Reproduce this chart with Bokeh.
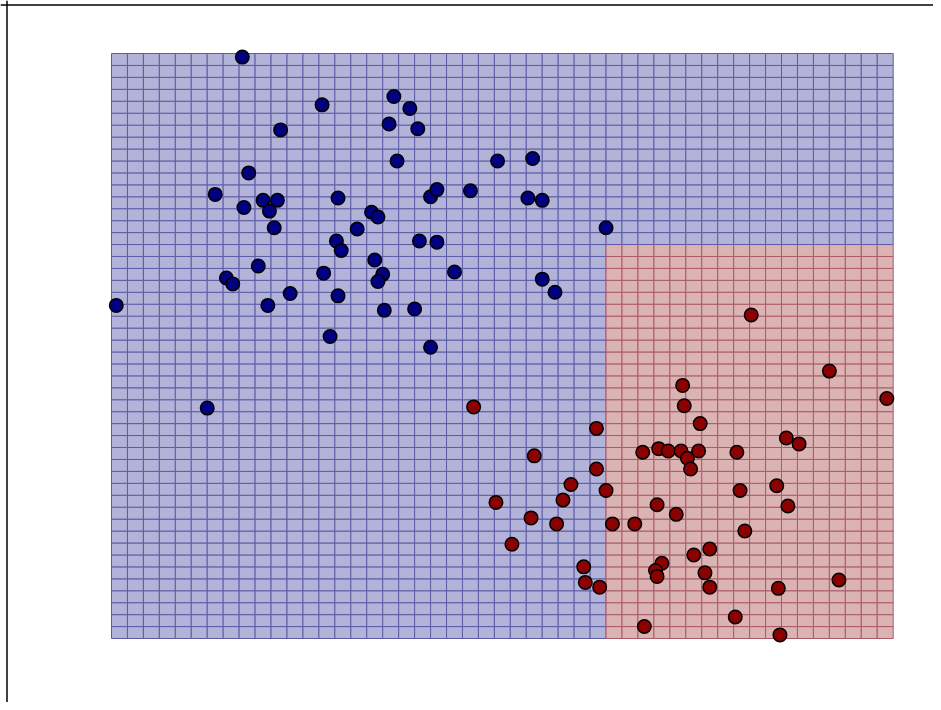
import numpy as np
from bokeh.plotting import figure
from bokeh.models import Range1d, ColumnDataSource, Span
from bokeh.embed import file_html
from bokeh.resources import INLINE

# ---- data: class 0 (blue) ----
blue_x = [-1.38, -0.88, -0.43, -0.33, -0.46, -0.28, -1.14, -0.41, 0.22, 0.44,
          -1.34, -1.55, -1.37, -1.25, -1.16, -1.21, -1.18, -0.78, -0.57, -0.53,
          -0.66, -0.20, -0.16, 0.05, 0.41, 0.50, 0.90, -0.79, -0.76, -0.27,
          -0.16, -0.55, -1.28, -1.48, -1.44, -0.87, -0.50, -0.53, -0.05, -1.08,
          -0.78, -1.22, -0.30, -0.49, 0.50, 0.58, -0.83, -0.20, -2.17, -1.60]
blue_y = [2.47, 2.07, 2.14, 2.04, 1.91, 1.87, 1.86, 1.60, 1.60, 1.62,
          1.50, 1.32, 1.21, 1.27, 1.27, 1.18, 1.04, 1.29, 1.17, 1.13,
          1.03, 1.30, 1.36, 1.35, 1.29, 1.27, 1.04, 0.93, 0.85, 0.93,
          0.92, 0.77, 0.72, 0.62, 0.57, 0.66, 0.65, 0.59, 0.67, 0.49,
          0.47, 0.39, 0.36, 0.35, 0.61, 0.50, 0.13, 0.04, 0.39, -0.47]

# ---- data: class 1 (red) ----
red_x = [1.81, 2.30, 2.66, 1.38, 1.39, 1.49, 0.07, 0.84, 0.45, 0.84,
         0.68, 0.63, 0.90, 1.13, 1.23, 1.29, 1.37, 1.41, 1.48, 1.43,
         1.72, 2.03, 2.11, 0.21, 0.43, 0.59, 0.94, 1.08, 1.22, 1.34,
         1.74, 1.97, 2.04, 1.77, 0.31, 1.45, 1.55, 1.25, 1.21, 1.22,
         1.52, 1.55, 0.76, 0.77, 0.86, 2.36, 1.98, 1.14, 1.71, 1.99]
red_y = [0.31, -0.16, -0.39, -0.28, -0.45, -0.60, -0.46, -0.64, -0.87, -0.98,
         -1.11, -1.24, -1.16, -0.84, -0.81, -0.83, -0.83, -0.89, -0.83, -0.98,
         -0.84, -0.72, -0.77, -1.26, -1.39, -1.44, -1.44, -1.44, -1.28, -1.36,
         -1.16, -1.12, -1.29, -1.50, -1.61, -1.70, -1.65, -1.77, -1.83, -1.88,
         -1.85, -1.97, -1.80, -1.93, -1.97, -1.91, -1.98, -2.30, -2.22, -2.37]

# ---- decision surface (depth-2 tree rule) ----
mesh_x_min, mesh_x_max = -2.2, 2.7
mesh_y_min, mesh_y_max = -2.4, 2.5
mesh_points = 50
split_x = 0.9   # class 1 where x > split_x ...
split_y = 0.9   # ... and y < split_y

x_edges = np.linspace(mesh_x_min, mesh_x_max, mesh_points)
y_edges = np.linspace(mesh_y_min, mesh_y_max, mesh_points)
L, B = np.meshgrid(x_edges[:-1], y_edges[:-1])
R, T = np.meshgrid(x_edges[1:], y_edges[1:])
cx = (L + R) / 2
cy = (B + T) / 2
is_red = ((cx > split_x) & (cy < split_y)).ravel()

fill = np.where(is_red, "#dcb3b3", "#b3b3d9")
edge = np.where(is_red, "#aa5a68", "#5c5ca6")
mesh = ColumnDataSource(dict(left=L.ravel(), right=R.ravel(), bottom=B.ravel(), top=T.ravel(),
                             fill=fill, edge=edge))

p = figure(width=933, height=702,
           x_range=Range1d(-2.8958, 2.9526), y_range=Range1d(-2.936, 2.9439),
           output_backend="svg", toolbar_location=None, min_border=0,
           x_axis_location=None, y_axis_location=None)
p.grid.visible = False
p.outline_line_color = None
p.background_fill_color = "white"
p.border_fill_color = "white"

p.quad(left="left", right="right", bottom="bottom", top="top", source=mesh,
       fill_color="fill", line_color="edge", line_width=1)

p.scatter(blue_x, blue_y, size=13.5, fill_color="#000080", line_color="black", line_width=1.5)
p.scatter(red_x, red_y, size=13.5, fill_color="#8b0000", line_color="black", line_width=1.5)

# frame border (top and left edges visible)
p.add_layout(Span(location=-2.8551, dimension="height", line_color="black", line_width=1.5))
p.add_layout(Span(location=2.9062, dimension="width", line_color="black", line_width=1.5))

open("out.html", "w").write(file_html(p, INLINE))
